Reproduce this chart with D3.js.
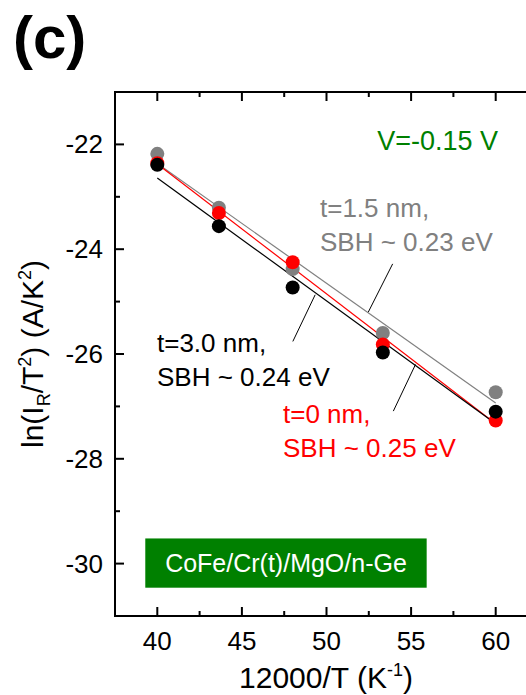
<!DOCTYPE html>
<html>
<head>
<meta charset="utf-8">
<script src="https://cdn.jsdelivr.net/npm/d3@7"></script>
<style>
  body { margin: 0; background: #fff; }
  svg { display: block; font-family: "Liberation Sans", Arial, sans-serif; }
</style>
</head>
<body>
<svg id="chart" width="526" height="695"></svg>
<script>
// 12000/T values (T = 300, 275, 250, 225, 200 K)
const invT = [40, 43.64, 48, 53.33, 60];

// ln(I_R/T^2) for each Cr thickness
const lnGray = [-22.18, -23.21, -24.38, -25.60, -26.73];   // t=1.5 nm
const lnRed = [-22.36, -23.31, -24.25, -25.82, -27.27];    // t=0 nm
const lnBlack = [-22.39, -23.56, -24.73, -25.97, -27.10];  // t=3.0 nm

const xTicks = [40, 45, 50, 55, 60];
const yTicks = [-30, -28, -26, -24, -22];

const series = [
  { name: "t=1.5 nm", values: lnGray, color: "#808080" },
  { name: "t=0 nm", values: lnRed, color: "#ff0000" },
  { name: "t=3.0 nm", values: lnBlack, color: "#000000" }
];

const svg = d3.select("#chart");
const x = d3.scaleLinear().domain([37.5, 62.5]).range([115, 538]);
const y = d3.scaleLinear().domain([-31, -21]).range([616, 92]);

// least squares fit of a series
function fit(xs, ys) {
  const mx = d3.mean(xs), my = d3.mean(ys);
  const sxy = d3.sum(xs, (v, i) => (v - mx) * (ys[i] - my));
  const sxx = d3.sum(xs, v => (v - mx) * (v - mx));
  const k = sxy / sxx;
  return v => my + k * (v - mx);
}

// ---- axes (ticks pointing inside) ----
const majorX = xTicks, minorX = d3.range(42.5, 60, 5);
const majorY = yTicks, minorY = d3.range(-31, -20, 2);

function tickLines(g, vals, len, horiz, pos, dir) {
  g.selectAll(null).data(vals).enter().append("line")
    .attr("x1", d => horiz ? x(d) : pos)
    .attr("x2", d => horiz ? x(d) : pos + dir * len)
    .attr("y1", d => horiz ? pos : y(d))
    .attr("y2", d => horiz ? pos + dir * len : y(d))
    .attr("stroke", "#000").attr("stroke-width", 2);
}

const axes = svg.append("g");
// frame
axes.append("rect")
  .attr("x", x(37.5)).attr("y", y(-21))
  .attr("width", x(62.5) - x(37.5)).attr("height", y(-31) - y(-21))
  .attr("fill", "none").attr("stroke", "#000").attr("stroke-width", 2);

tickLines(axes, majorX, 9, true, y(-31), -1);
tickLines(axes, minorX, 5, true, y(-31), -1);
tickLines(axes, majorX, 9, true, y(-21), 1);
tickLines(axes, minorX, 5, true, y(-21), 1);
tickLines(axes, majorY, 9, false, x(37.5), 1);
tickLines(axes, minorY, 5, false, x(37.5), 1);

axes.selectAll(null).data(majorX).enter().append("text")
  .attr("x", d => x(d)).attr("y", 650)
  .attr("text-anchor", "middle").attr("font-size", 26)
  .text(d => d);

axes.selectAll(null).data(majorY).enter().append("text")
  .attr("x", 103).attr("y", d => y(d) + 9)
  .attr("text-anchor", "end").attr("font-size", 26)
  .text(d => d);

// axis titles
const xt = svg.append("text").attr("x", 326).attr("y", 688)
  .attr("text-anchor", "middle").attr("font-size", 30);
xt.append("tspan").text("12000/T (K");
xt.append("tspan").attr("dy", -12).attr("font-size", 18).text("-1");
xt.append("tspan").attr("dy", 12).text(")");

const yt = svg.append("text")
  .attr("transform", "translate(43,354) rotate(-90)")
  .attr("text-anchor", "middle").attr("font-size", 30);
yt.append("tspan").text("ln(I");
yt.append("tspan").attr("dy", 7).attr("font-size", 18).text("R");
yt.append("tspan").attr("dy", -7).text("/T");
yt.append("tspan").attr("dy", -12).attr("font-size", 18).text("2");
yt.append("tspan").attr("dy", 12).text(") (A/K");
yt.append("tspan").attr("dy", -12).attr("font-size", 18).text("2");
yt.append("tspan").attr("dy", 12).text(")");

// panel label
svg.append("text").attr("x", 13).attr("y", 58)
  .attr("font-size", 60).attr("font-weight", "bold").text("(c)");

// ---- fit lines and points ----
const plot = svg.append("g");
series.forEach(s => {
  const f = fit(invT, s.values);
  plot.append("line")
    .attr("x1", x(40)).attr("y1", y(f(40)))
    .attr("x2", x(60)).attr("y2", y(f(60)))
    .attr("stroke", s.color).attr("stroke-width", 1.2);
});
series.forEach(s => {
  plot.selectAll(null).data(s.values).enter().append("circle")
    .attr("cx", (d, i) => x(invT[i])).attr("cy", d => y(d))
    .attr("r", 7).attr("fill", s.color);
});

// ---- annotations ----
const leaders = [
  [53.91, -24.28, 52.47, -25.20],
  [49.33, -24.87, 48.01, -25.76],
  [55.26, -26.20, 53.95, -27.09]
];
plot.selectAll(null).data(leaders).enter().append("line")
  .attr("x1", d => x(d[0])).attr("y1", d => y(d[1]))
  .attr("x2", d => x(d[2])).attr("y2", d => y(d[3]))
  .attr("stroke", "#000").attr("stroke-width", 1);

const labels = [
  { lines: ["t=1.5 nm,", "SBH ~ 0.23 eV"], color: "#808080", x: 320, y: 217 },
  { lines: ["t=3.0 nm,", "SBH ~ 0.24 eV"], color: "#000000", x: 157, y: 352 },
  { lines: ["t=0 nm,", "SBH ~ 0.25 eV"], color: "#ff0000", x: 283, y: 423 }
];
labels.forEach(l => {
  l.lines.forEach((t, i) => {
    svg.append("text").attr("x", l.x).attr("y", l.y + i * 34)
      .attr("font-size", 26).attr("fill", l.color).text(t);
  });
});

svg.append("text").attr("x", 498).attr("y", 150)
  .attr("text-anchor", "end").attr("font-size", 27)
  .attr("fill", "#008000").text("V=-0.15 V");

// sample box
svg.append("rect")
  .attr("x", x(39.29)).attr("y", y(-29.52))
  .attr("width", x(55.92) - x(39.29)).attr("height", y(-30.46) - y(-29.52))
  .attr("fill", "#008000");
svg.append("text")
  .attr("x", (x(39.29) + x(55.92)) / 2).attr("y", 572)
  .attr("text-anchor", "middle").attr("font-size", 25)
  .attr("fill", "#fff").text("CoFe/Cr(t)/MgO/n-Ge");
</script>
</body>
</html>
